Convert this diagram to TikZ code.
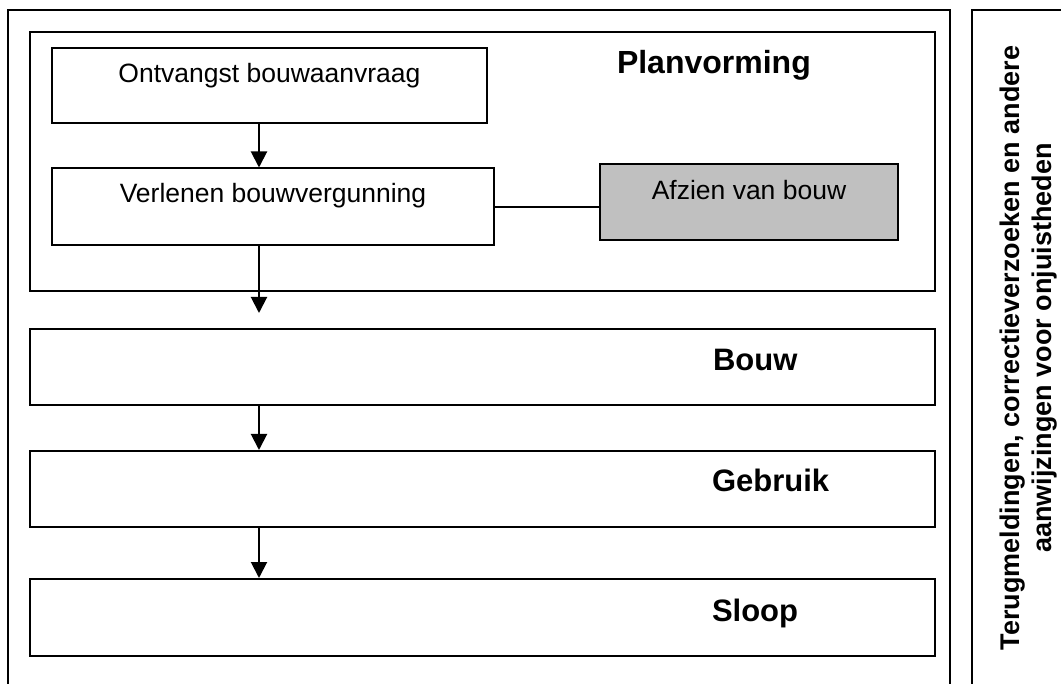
\documentclass[tikz,border=0pt]{standalone}
\usepackage{fontspec}
\setmainfont{Liberation Sans}
\usetikzlibrary{arrows.meta}
\definecolor{boxgray}{RGB}{192,192,192}
\begin{document}
\begin{tikzpicture}[x=1pt,y=-1pt,line width=2pt,
  box/.style={draw,rectangle,inner sep=0pt},
  txt/.style={inner sep=0pt,font=\fontsize{26.5}{30}\selectfont},
  head/.style={inner sep=0pt,anchor=base west,font=\fontsize{31}{36}\selectfont\bfseries},
  arr/.style={-{Triangle[width=16pt,length=16pt]}}]
\useasboundingbox (0,0) rectangle (1061,684);
\fill[white] (0,0) rectangle (1061,684);
% open frames
\draw (8,684) -- (8,10) -- (950,10) -- (950,684);
\draw (972,684) -- (972,10) -- (1061,10);
% containers
\node[box,minimum width=905pt,minimum height=259pt] (P) at (482.5,161.5) {};
\node[box,minimum width=905pt,minimum height=76pt] (B) at (482.5,367) {};
\node[box,minimum width=905pt,minimum height=76pt] (G) at (482.5,489) {};
\node[box,minimum width=905pt,minimum height=77pt] (S) at (482.5,617.5) {};
% inner boxes
\node[box,minimum width=435pt,minimum height=75pt] (O) at (269.5,85.5) {};
\node[box,minimum width=442pt,minimum height=77pt] (V) at (273,207) {};
\node[box,fill=boxgray,minimum width=298pt,minimum height=76pt] (A) at (749,202) {};
% texts
\node[txt,anchor=base] (Ot) at (269.5,83) {Ontvangst bouwaanvraag};
\node[txt,anchor=base] (Vt) at (273,203) {Verlenen bouwvergunning};
\node[txt,anchor=base] (At) at (749,200) {Afzien van bouw};
\node[head,font=\fontsize{32}{36}\selectfont\bfseries] (Pt) at (616,74) {Planvorming};
\node[head] (Bt) at (712,371) {Bouw};
\node[head] (Gt) at (711,492) {Gebruik};
\node[head] (St) at (711,621) {Sloop};
\node[inner sep=0pt,rotate=90,align=center,font=\fontsize{27}{32}\selectfont\bfseries] (R) at (1029,348)
  {Terugmeldingen, correctieverzoeken en andere\\aanwijzingen voor onjuistheden};
% connectors
\coordinate (ax) at (259,0);
\coordinate (t1) at (259,313);
\draw[arr] (O.south -| ax) -- (V.north -| ax);
\draw[arr] (V.south -| ax) -- (t1);
\draw[arr] (B.south -| ax) -- (G.north -| ax);
\draw[arr] (G.south -| ax) -- (S.north -| ax);
\draw (V.east) -- (V.east -| A.west);
\end{tikzpicture}
\end{document}
